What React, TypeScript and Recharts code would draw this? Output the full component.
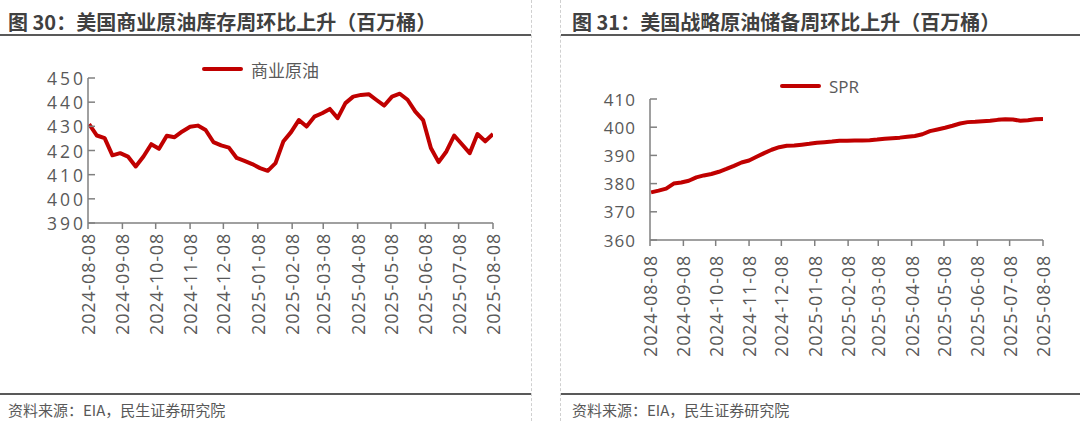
import React from 'react';
import { LineChart, Line, XAxis, YAxis } from 'recharts';

// weekly EIA report dates
const weeks = [
  '2024-08-09', '2024-08-16', '2024-08-23', '2024-08-30', '2024-09-06', '2024-09-13', '2024-09-20', '2024-09-27',
  '2024-10-04', '2024-10-11', '2024-10-18', '2024-10-25', '2024-11-01', '2024-11-08', '2024-11-15', '2024-11-22',
  '2024-11-29', '2024-12-06', '2024-12-13', '2024-12-20', '2024-12-27', '2025-01-03', '2025-01-10', '2025-01-17',
  '2025-01-24', '2025-01-31', '2025-02-07', '2025-02-14', '2025-02-21', '2025-02-28', '2025-03-07', '2025-03-14',
  '2025-03-21', '2025-03-28', '2025-04-04', '2025-04-11', '2025-04-18', '2025-04-25', '2025-05-02', '2025-05-09',
  '2025-05-16', '2025-05-23', '2025-05-30', '2025-06-06', '2025-06-13', '2025-06-20', '2025-06-27', '2025-07-04',
  '2025-07-11', '2025-07-18', '2025-07-25', '2025-08-01', '2025-08-08',
];

const commercial = [
  430.9, 426.2, 425.1, 418.0, 418.9, 417.5, 413.4, 417.5, 422.6, 420.7, 426.1, 425.5, 427.9, 429.8, 430.3, 428.5,
  423.5, 422.1, 421.2, 416.9, 415.7, 414.4, 412.7, 411.6, 414.8, 423.7, 427.6, 432.6, 429.9, 434.0, 435.4, 437.2,
  433.4, 439.6, 442.3, 443.0, 443.3, 440.9, 438.6, 442.3, 443.5, 441.0, 436.1, 432.6, 421.0, 415.2, 419.6, 426.2,
  422.6, 418.9, 426.8, 423.8, 426.8,
];

const spr = [
  376.9, 377.5, 378.2, 380.0, 380.4, 381.0, 382.2, 382.9, 383.4, 384.2, 385.2, 386.3, 387.5, 388.2, 389.5, 390.8,
  392.0, 392.9, 393.4, 393.5, 393.8, 394.1, 394.5, 394.7, 394.9, 395.2, 395.2, 395.3, 395.3, 395.4, 395.6, 395.9,
  396.1, 396.3, 396.6, 396.9, 397.5, 398.6, 399.2, 399.8, 400.5, 401.3, 401.8, 401.9, 402.1, 402.3, 402.6, 402.8,
  402.7, 402.3, 402.5, 402.8, 402.9,
];

const monthTicks = [
  '2024-08-08', '2024-09-08', '2024-10-08', '2024-11-08', '2024-12-08', '2025-01-08', '2025-02-08',
  '2025-03-08', '2025-04-08', '2025-05-08', '2025-06-08', '2025-07-08', '2025-08-08',
];
const leftYTicks = [390, 400, 410, 420, 430, 440, 450];
const rightYTicks = [360, 370, 380, 390, 400, 410];

const toTime = (d: string) => Date.parse(d + 'T00:00:00Z');
const fmtDate = (v: number) => new Date(v).toISOString().slice(0, 10);

const leftData = weeks.map((w, i) => ({ t: toTime(w), v: commercial[i] }));
const rightData = weeks.map((w, i) => ({ t: toTime(w), v: spr[i] }));
const xDomain = [toTime(monthTicks[0]), toTime(monthTicks[monthTicks.length - 1])];
const xTicks = monthTicks.map(toTime);

const RED = '#c00000';
const AXIS = '#808080';
const TEXT = '#595959';
const NUM_FONT = '"Open Sans", "DejaVu Sans", sans-serif';
const CJK_FONT = '"Noto Sans CJK SC", "Noto Sans", sans-serif';

const XTick = (props: any) => {
  const { x, y, payload } = props;
  return (
    <text
      x={x}
      y={y}
      transform={`rotate(-90, ${x}, ${y})`}
      textAnchor="end"
      dominantBaseline="central"
      fill={TEXT}
      fontSize={18}
      fontFamily={NUM_FONT}
      letterSpacing={0.8}
    >
      {fmtDate(payload.value)}
    </text>
  );
};

const makeYTick = (size: number, spacing: number) => (props: any) => {
  const { x, y, payload } = props;
  return (
    <text
      x={x}
      y={y}
      textAnchor="end"
      dominantBaseline="central"
      fill={TEXT}
      fontSize={size}
      fontFamily={NUM_FONT}
      letterSpacing={spacing}
    >
      {payload.value}
    </text>
  );
};

const Title: React.FC<{ left: number; text: string }> = ({ left, text }) => (
  <div
    style={{
      position: 'absolute', left, top: 8, fontSize: 20, fontWeight: 700, color: '#404040',
      fontFamily: CJK_FONT, lineHeight: '28px', whiteSpace: 'nowrap',
    }}
  >
    {text}
  </div>
);

const LegendItem: React.FC<{ left: number; top: number; label: string; font: string }> = ({ left, top, label, font }) => (
  <div style={{ position: 'absolute', left, top: top - 14, height: 28, display: 'flex', alignItems: 'center' }}>
    <div style={{ width: 41, height: 4, background: RED, borderRadius: 2 }} />
    <span style={{ marginLeft: 8, fontSize: 17, color: TEXT, fontFamily: font, whiteSpace: 'nowrap' }}>{label}</span>
  </div>
);

const Footer: React.FC<{ left: number }> = ({ left }) => (
  <div
    style={{
      position: 'absolute', left, top: 400, fontSize: 15, color: TEXT, fontFamily: CJK_FONT,
      lineHeight: '20px', whiteSpace: 'nowrap',
    }}
  >
    资料来源：EIA，民生证券研究院
  </div>
);

export default function App() {
  return (
    <div style={{ position: 'absolute', left: 0, top: 0, width: 1080, height: 421, background: '#fff', overflow: 'hidden' }}>
      <div style={{ position: 'absolute', left: 0, top: 0 }}>
        <LineChart width={540} height={421} data={leftData} margin={{ top: 78, right: 47, bottom: 78, left: 28 }}>
          <XAxis
            type="number"
            dataKey="t"
            domain={xDomain}
            ticks={xTicks}
            interval={0}
            height={120}
            stroke={AXIS}
            strokeWidth={1.5}
            tickSize={6}
            tickMargin={4}
            tick={<XTick />}
            allowDataOverflow
          />
          <YAxis
            domain={[390, 450]}
            ticks={leftYTicks}
            interval={0}
            width={60}
            stroke={AXIS}
            strokeWidth={1.5}
            tickSize={-7}
            tickMargin={9}
            tick={makeYTick(17.5, 3)}
            allowDataOverflow
          />
          <Line
            type="linear"
            dataKey="v"
            stroke={RED}
            strokeWidth={4}
            strokeLinejoin="round"
            dot={false}
            isAnimationActive={false}
          />
        </LineChart>
      </div>

      <div style={{ position: 'absolute', left: 540, top: 0 }}>
        <LineChart width={540} height={421} data={rightData} margin={{ top: 99, right: 37, bottom: 61, left: 50 }}>
          <XAxis
            type="number"
            dataKey="t"
            domain={xDomain}
            ticks={xTicks}
            interval={0}
            height={120}
            stroke={AXIS}
            strokeWidth={1.5}
            tickSize={6}
            tickMargin={9}
            tick={<XTick />}
            allowDataOverflow
          />
          <YAxis
            domain={[360, 410]}
            ticks={rightYTicks}
            interval={0}
            width={60}
            stroke={AXIS}
            strokeWidth={1.5}
            tickSize={-7}
            tickMargin={21}
            tick={makeYTick(17, 1)}
            allowDataOverflow
          />
          <Line
            type="linear"
            dataKey="v"
            stroke={RED}
            strokeWidth={4}
            strokeLinejoin="round"
            dot={false}
            isAnimationActive={false}
          />
        </LineChart>
      </div>

      <Title left={8} text="图 30：美国商业原油库存周环比上升（百万桶）" />
      <Title left={572} text="图 31：美国战略原油储备周环比上升（百万桶）" />

      <LegendItem left={202} top={69} label="商业原油" font={CJK_FONT} />
      <LegendItem left={780} top={86} label="SPR" font={NUM_FONT} />

      {/* header / footer rules */}
      <div style={{ position: 'absolute', left: 0, top: 34, width: 531, height: 2, background: '#595959' }} />
      <div style={{ position: 'absolute', left: 561, top: 34, width: 519, height: 2, background: '#595959' }} />
      <div style={{ position: 'absolute', left: 0, top: 393, width: 531, height: 2, background: '#595959' }} />
      <div style={{ position: 'absolute', left: 561, top: 393, width: 519, height: 2, background: '#595959' }} />
      <div style={{ position: 'absolute', left: 531, top: 0, width: 0, height: 421, borderLeft: '1px dashed #d0d0d0' }} />
      <div style={{ position: 'absolute', left: 560, top: 0, width: 0, height: 421, borderLeft: '1px dashed #d0d0d0' }} />

      <Footer left={8} />
      <Footer left={572} />
    </div>
  );
}
